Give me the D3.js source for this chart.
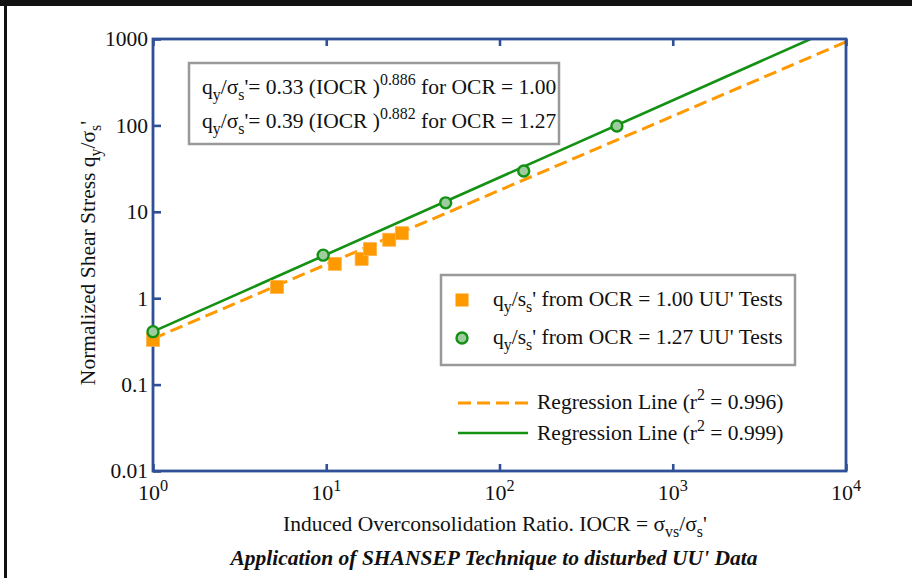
<!DOCTYPE html>
<html><head><meta charset="utf-8">
<script src="https://cdn.jsdelivr.net/npm/d3@7"></script>
<style>
html,body{margin:0;padding:0;background:#fff;}
svg{display:block;font-family:"Liberation Serif","Times New Roman",serif;}
</style></head>
<body>
<svg id="chart" width="912" height="578"></svg>
<script>
// ---- data ----
const xTicks = [1, 10, 100, 1000, 10000];
const xTickExp = ["0", "1", "2", "3", "4"];
const yTicks = [0.01, 0.1, 1, 10, 100, 1000];
const yTickLabels = ["0.01", "0.1", "1", "10", "100", "1000"];
const ocr100X = [1, 5.2, 11.2, 16.0, 17.9, 23.1, 27.3];
const ocr100Y = [0.33, 1.35, 2.5, 2.85, 3.7, 4.75, 5.65];
const ocr127X = [1, 9.6, 48.9, 138, 476];
const ocr127Y = [0.41, 3.15, 12.7, 29.7, 98.5];
const reg100X = [1, 10000];
const reg100Y = [0.34, 925];
const reg127X = [1, 6250];
const reg127Y = [0.41, 1000];

const svg = d3.select("#chart");
const L = 153, R = 846, T = 39, B = 471;
const x = d3.scaleLog().domain([1, 10000]).range([L, R]);
const y = d3.scaleLog().domain([0.01, 1000]).range([B, T]);

const AX = "#2f4f98", OR = "#ff9900", GR = "#139113";
const FS = 21.5;

// outer black frame
svg.append("rect").attr("x", 0).attr("y", 0).attr("width", 912).attr("height", 6).attr("fill", "#111");
svg.append("rect").attr("x", 4).attr("y", 0).attr("width", 3).attr("height", 578).attr("fill", "#111");

function rich(sel, segs, size) {
  const spans = [];
  let pending = 0;
  segs.forEach(s => {
    const t = sel.append("tspan").text(s.t);
    let dy = pending;
    pending = 0;
    if (s.s === "sub") { t.attr("font-size", size * 0.74); dy += size * 0.3; pending = -size * 0.3; }
    else if (s.s === "sup") { t.attr("font-size", size * 0.74); dy += -size * 0.42; pending = size * 0.42; }
    if (dy !== 0) t.attr("dy", dy);
    spans.push(t);
  });
}

// clip
svg.append("clipPath").attr("id", "clip").append("rect")
  .attr("x", L).attr("y", T).attr("width", R - L).attr("height", B - T);

// regression lines
const line = d3.line().x(d => x(d[0])).y(d => y(d[1]));
svg.append("path").datum(reg100X.map((v, i) => [v, reg100Y[i]]))
  .attr("d", line).attr("fill", "none").attr("stroke", OR).attr("stroke-width", 3)
  .attr("stroke-dasharray", "13,6").attr("clip-path", "url(#clip)");
svg.append("path").datum(reg127X.map((v, i) => [v, reg127Y[i]]))
  .attr("d", line).attr("fill", "none").attr("stroke", GR).attr("stroke-width", 2.6)
  .attr("clip-path", "url(#clip)");

// axes frame
svg.append("rect").attr("x", L).attr("y", T).attr("width", R - L).attr("height", B - T)
  .attr("fill", "none").attr("stroke", AX).attr("stroke-width", 2.8);

const yAxis = d3.axisLeft(y).tickValues(yTicks).tickSize(-8).tickFormat((d, i) => yTickLabels[i]);
const gy = svg.append("g").attr("transform", `translate(${L},0)`).call(yAxis);
gy.select(".domain").remove();
gy.selectAll(".tick line").attr("stroke", AX).attr("stroke-width", 2.6);
gy.selectAll(".tick text").attr("font-size", 21.5).attr("font-family", "Liberation Serif").attr("fill", "#111")
  .attr("x", -5).attr("dy", "0.32em");

const xAxis = d3.axisBottom(x).tickValues(xTicks).tickSize(-7).tickFormat("");
const gx = svg.append("g").attr("transform", `translate(0,${B})`).call(xAxis);
gx.select(".domain").remove();
gx.selectAll(".tick line").attr("stroke", AX).attr("stroke-width", 2.6);
const gxt = svg.append("g").attr("transform", `translate(0,${T})`).call(d3.axisTop(x).tickValues(xTicks).tickSize(-7).tickFormat(""));
gxt.select(".domain").remove();
gxt.selectAll(".tick line").attr("stroke", AX).attr("stroke-width", 2.6);

// x tick labels
xTicks.forEach((v, i) => {
  const t = svg.append("text").attr("x", x(v)).attr("y", 500).attr("text-anchor", "middle")
    .attr("font-size", 22).attr("fill", "#111");
  rich(t, [{t: "10"}, {t: xTickExp[i], s: "sup"}], 22);
});

// markers
const sq = 13;
svg.append("g").selectAll("rect").data(ocr100X.map((v, i) => [v, ocr100Y[i]])).join("rect")
  .attr("x", d => x(d[0]) - sq / 2).attr("y", d => y(d[1]) - sq / 2)
  .attr("width", sq).attr("height", sq).attr("fill", OR).attr("stroke", "#ffb347").attr("stroke-width", 0.8);
svg.append("g").selectAll("circle").data(ocr127X.map((v, i) => [v, ocr127Y[i]])).join("circle")
  .attr("cx", d => x(d[0])).attr("cy", d => y(d[1])).attr("r", 5.5)
  .attr("fill", "#9fcc9f").attr("stroke", GR).attr("stroke-width", 2.4);

// equation box
svg.append("rect").attr("x", 189).attr("y", 63).attr("width", 370).attr("height", 81)
  .attr("fill", "#fff").attr("stroke", "#999").attr("stroke-width", 2.5);
const eq1 = svg.append("text").attr("x", 202).attr("y", 94).attr("font-size", FS).attr("fill", "#111");
rich(eq1, [{t: "q"}, {t: "y", s: "sub"}, {t: "/σ"}, {t: "s", s: "sub"}, {t: "'= 0.33 (IOCR )"}, {t: "0.886", s: "sup"}, {t: " for OCR = 1.00"}], FS);
const eq2 = svg.append("text").attr("x", 202).attr("y", 128).attr("font-size", FS).attr("fill", "#111");
rich(eq2, [{t: "q"}, {t: "y", s: "sub"}, {t: "/σ"}, {t: "s", s: "sub"}, {t: "'= 0.39 (IOCR )"}, {t: "0.882", s: "sup"}, {t: " for OCR = 1.27"}], FS);

// legend box
svg.append("rect").attr("x", 441).attr("y", 275).attr("width", 354).attr("height", 90)
  .attr("fill", "#fff").attr("stroke", "#999").attr("stroke-width", 2.5);
svg.append("rect").attr("x", 462 - 6.5).attr("y", 300 - 6.5).attr("width", 13).attr("height", 13).attr("fill", OR);
svg.append("circle").attr("cx", 462).attr("cy", 338).attr("r", 5.5).attr("fill", "#9fcc9f").attr("stroke", GR).attr("stroke-width", 2.4);
const lg1 = svg.append("text").attr("x", 493).attr("y", 306).attr("font-size", FS).attr("fill", "#111");
rich(lg1, [{t: "q"}, {t: "y", s: "sub"}, {t: "/s"}, {t: "s", s: "sub"}, {t: "' from OCR = 1.00 UU' Tests"}], FS);
const lg2 = svg.append("text").attr("x", 493).attr("y", 344).attr("font-size", FS).attr("fill", "#111");
rich(lg2, [{t: "q"}, {t: "y", s: "sub"}, {t: "/s"}, {t: "s", s: "sub"}, {t: "' from OCR = 1.27 UU' Tests"}], FS);

// regression legend
svg.append("line").attr("x1", 458).attr("x2", 530).attr("y1", 403).attr("y2", 403)
  .attr("stroke", OR).attr("stroke-width", 3).attr("stroke-dasharray", "13,6");
svg.append("line").attr("x1", 458).attr("x2", 528).attr("y1", 433).attr("y2", 433)
  .attr("stroke", GR).attr("stroke-width", 2.6);
const rg1 = svg.append("text").attr("x", 537).attr("y", 409).attr("font-size", FS).attr("fill", "#111");
rich(rg1, [{t: "Regression Line (r"}, {t: "2", s: "sup"}, {t: " = 0.996)"}], FS);
const rg2 = svg.append("text").attr("x", 537).attr("y", 440).attr("font-size", FS).attr("fill", "#111");
rich(rg2, [{t: "Regression Line (r"}, {t: "2", s: "sup"}, {t: " = 0.999)"}], FS);

// axis titles
const xt = svg.append("text").attr("x", 495).attr("y", 531).attr("text-anchor", "middle").attr("font-size", FS).attr("fill", "#111");
rich(xt, [{t: "Induced Overconsolidation Ratio. IOCR = σ"}, {t: "vs", s: "sub"}, {t: "/σ"}, {t: "s", s: "sub"}, {t: "'"}], FS);
const yt = svg.append("text").attr("transform", "translate(95,253) rotate(-90)").attr("text-anchor", "middle").attr("font-size", FS).attr("fill", "#111");
rich(yt, [{t: "Normalized Shear Stress q"}, {t: "y", s: "sub"}, {t: "/σ"}, {t: "s", s: "sub"}, {t: "'"}], FS);

svg.append("text").attr("x", 494).attr("y", 565).attr("text-anchor", "middle")
  .attr("font-size", FS).attr("font-weight", "bold").attr("font-style", "italic").attr("fill", "#111")
  .text("Application of SHANSEP Technique to disturbed UU' Data");
</script>
</body></html>
